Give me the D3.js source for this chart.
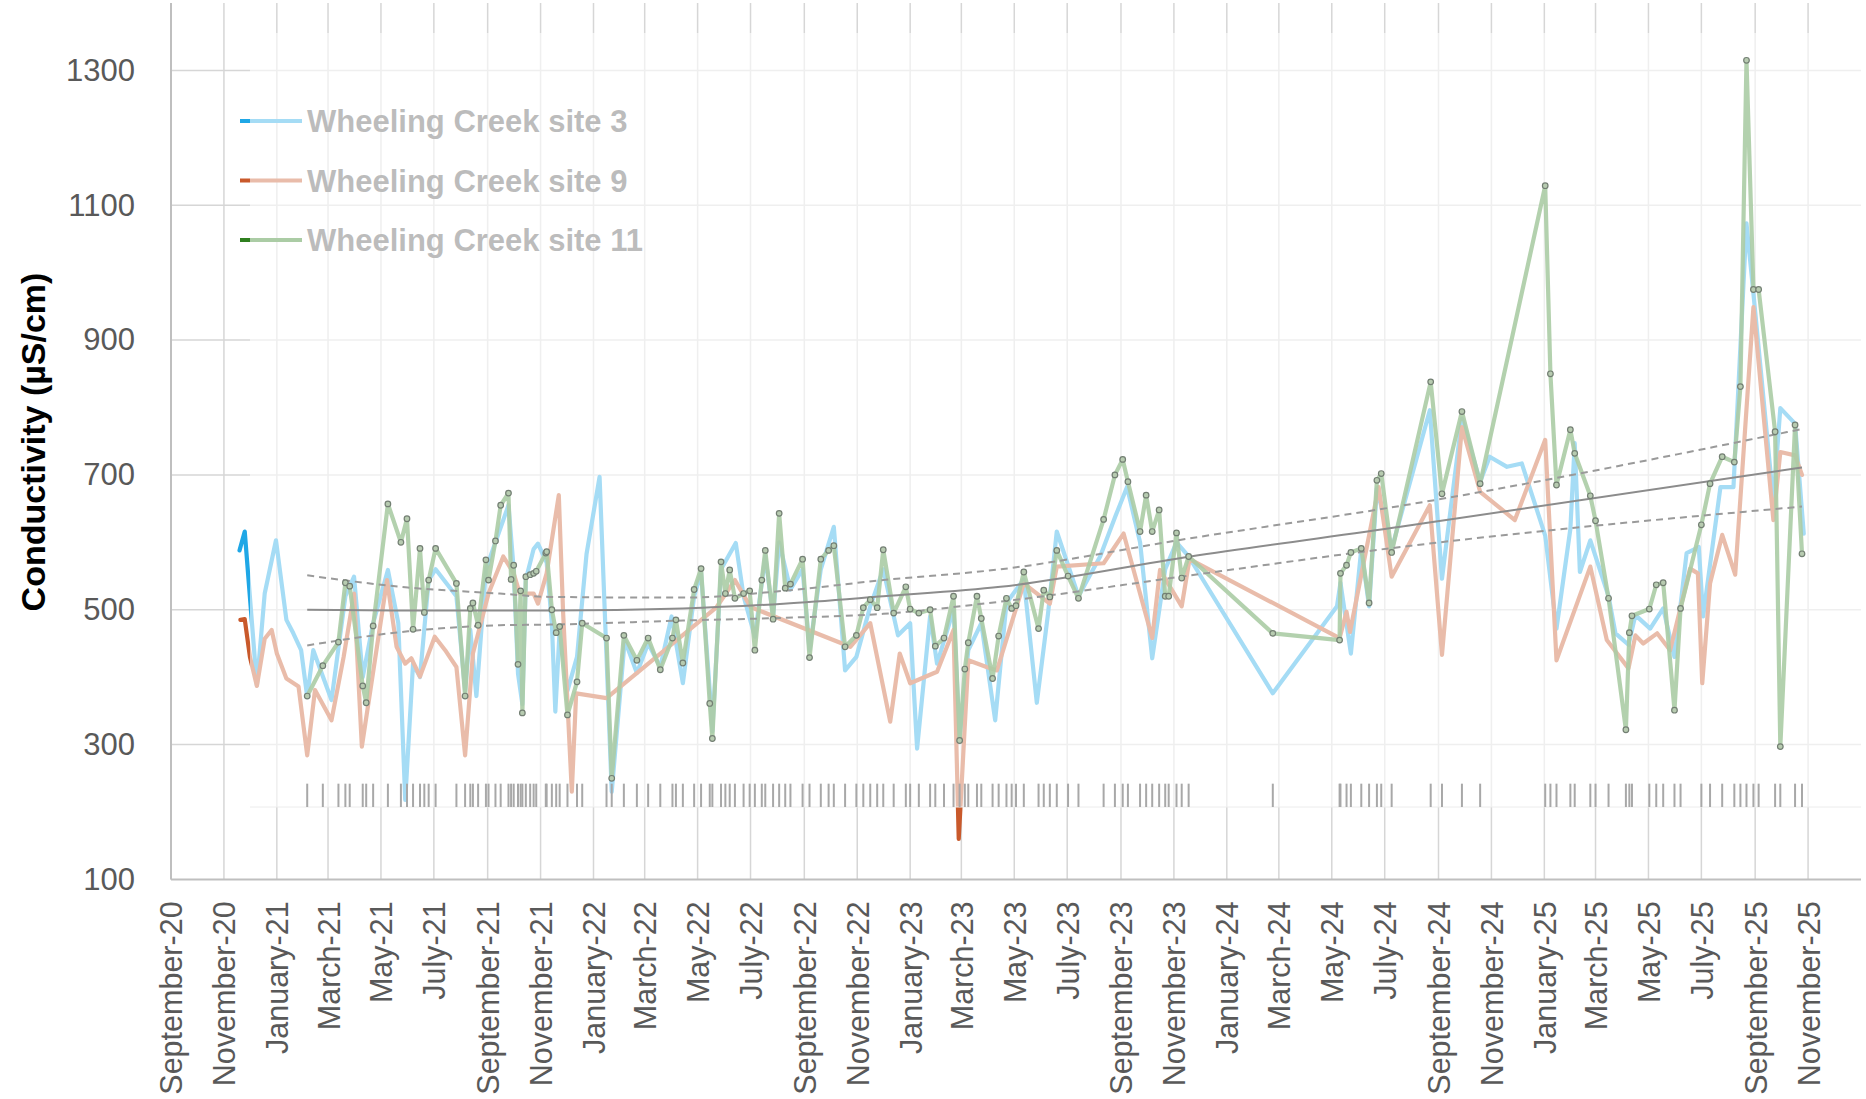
<!DOCTYPE html>
<html>
<head>
<meta charset="utf-8">
<script src="https://cdn.jsdelivr.net/npm/d3@7"></script>
<style>
  html, body { margin: 0; padding: 0; background: #ffffff; }
  svg { display: block; font-family: "Liberation Sans", Arial, sans-serif; }
</style>
</head>
<body>
<svg id="chart" width="1866" height="1099"></svg>
<script>
// ---- Conductivity readings (µS/cm) ----
const seriesNames = ["Wheeling Creek site 3", "Wheeling Creek site 9", "Wheeling Creek site 11"];

const site3Dates = ["2020-11-19","2020-11-25","2020-12-09","2020-12-18","2020-12-31","2021-01-12","2021-01-20","2021-01-29","2021-02-05","2021-02-12",
  "2021-03-05","2021-03-21","2021-03-31","2021-04-10","2021-04-22","2021-05-09","2021-05-21","2021-05-29","2021-06-07","2021-06-15",
  "2021-06-25","2021-07-03","2021-07-27","2021-08-06","2021-08-12","2021-08-19","2021-08-30","2021-09-10","2021-09-25","2021-10-01",
  "2021-10-06","2021-10-11","2021-10-15","2021-10-24","2021-10-29","2021-11-08","2021-11-14","2021-11-18","2021-11-23","2021-12-02",
  "2021-12-13","2021-12-24","2022-01-08","2022-01-22","2022-02-06","2022-02-20","2022-03-05","2022-03-19","2022-04-01","2022-04-14",
  "2022-04-27","2022-05-05","2022-05-15","2022-05-18","2022-05-28","2022-06-14","2022-06-23","2022-07-06","2022-07-18","2022-07-27",
  "2022-08-03","2022-08-16","2022-08-30","2022-09-07","2022-09-20","2022-10-05","2022-10-18","2022-10-31","2022-11-16","2022-12-01",
  "2022-12-18","2023-01-01","2023-01-09","2023-01-24","2023-02-01","2023-02-20","2023-02-27","2023-03-09","2023-03-24","2023-04-09",
  "2023-04-22","2023-05-12","2023-05-27","2023-06-09","2023-06-19","2023-07-14","2023-08-08","2023-08-26","2023-09-08","2023-09-23",
  "2023-10-07","2023-10-22","2023-11-04","2023-11-18","2024-02-23","2024-05-07","2024-05-11","2024-05-23","2024-06-04","2024-06-13",
  "2024-06-22","2024-07-09","2024-08-22","2024-09-05","2024-09-28","2024-10-19","2024-10-30","2024-11-19","2024-12-06","2025-01-02",
  "2025-01-15","2025-01-31","2025-02-05","2025-02-11","2025-02-23","2025-03-16","2025-03-24","2025-04-08","2025-04-16","2025-05-03",
  "2025-05-18","2025-05-31","2025-06-14","2025-06-28","2025-07-03","2025-07-23","2025-08-07","2025-08-22","2025-08-30","2025-09-22",
  "2025-09-30","2025-10-17","2025-10-27"];
const site3Values = [588,616,388,524,603,485,465,440,371,440,
  366,520,549,400,480,559,480,218,420,400,
  544,560,520,380,470,372,560,600,655,560,
  405,360,545,590,598,570,480,349,470,380,
  430,583,697,230,455,406,450,415,490,391,
  520,555,380,320,560,599,520,460,580,490,
  600,530,560,440,560,623,410,430,505,560,
  462,480,294,490,420,500,310,440,480,336,
  510,545,362,495,616,520,579,640,682,600,
  428,560,600,579,376,505,540,435,590,505,
  680,590,796,546,783,690,727,712,717,610,
  472,620,747,556,603,520,465,448,492,472,
  502,430,584,593,490,682,682,1073,969,660,
  799,776,613];

const site9Dates = ["2020-11-20","2020-11-25","2020-12-01","2020-12-09","2020-12-18","2020-12-26","2021-01-01","2021-01-12","2021-01-26","2021-02-05",
  "2021-02-14","2021-03-05","2021-03-19","2021-03-31","2021-04-09","2021-05-08","2021-05-19","2021-05-29","2021-06-05","2021-06-15",
  "2021-07-02","2021-07-14","2021-07-27","2021-08-06","2021-08-15","2021-09-02","2021-09-19","2021-10-01","2021-10-08","2021-10-24",
  "2021-10-29","2021-11-08","2021-11-22","2021-11-27","2021-12-07","2021-12-12","2022-01-16","2022-05-23","2022-06-13","2022-07-01",
  "2022-10-24","2022-11-16","2022-12-09","2022-12-20","2023-01-01","2023-02-01","2023-02-20","2023-02-26","2023-03-09","2023-03-30",
  "2023-04-11","2023-05-12","2023-06-11","2023-06-19","2023-08-12","2023-09-04","2023-10-07","2023-10-16","2023-11-10","2023-11-19",
  "2024-05-10","2024-05-18","2024-05-22","2024-06-24","2024-07-09","2024-08-22","2024-09-05","2024-09-28","2024-10-19","2024-11-28",
  "2025-01-02","2025-01-15","2025-02-23","2025-03-14","2025-04-08","2025-04-16","2025-04-25","2025-05-11","2025-05-26","2025-06-18",
  "2025-06-27","2025-07-02","2025-07-11","2025-07-25","2025-08-09","2025-08-30","2025-09-22","2025-09-30","2025-10-17","2025-10-25"];
const site9Values = [485,486,430,387,457,470,435,398,386,284,
  381,336,430,524,297,544,445,420,428,401,
  460,440,415,284,435,524,579,554,524,524,
  509,554,670,495,230,376,369,504,544,504,
  445,480,334,435,391,408,470,160,425,415,
  410,539,509,564,569,613,458,559,505,575,
  458,497,467,682,549,655,433,771,675,633,
  752,425,564,455,413,462,450,465,440,561,
  554,391,539,611,552,949,633,734,729,700];

const site11Dates = ["2021-02-05","2021-02-23","2021-03-13","2021-03-21","2021-03-26","2021-04-10","2021-04-14","2021-04-22","2021-05-09","2021-05-24",
  "2021-05-31","2021-06-07","2021-06-15","2021-06-20","2021-06-25","2021-07-03","2021-07-27","2021-08-06","2021-08-12","2021-08-15",
  "2021-08-21","2021-08-30","2021-09-02","2021-09-10","2021-09-16","2021-09-25","2021-09-28","2021-10-01","2021-10-06","2021-10-09",
  "2021-10-11","2021-10-15","2021-10-20","2021-10-24","2021-10-27","2021-11-07","2021-11-08","2021-11-14","2021-11-19","2021-11-23",
  "2021-12-02","2021-12-13","2021-12-19","2022-01-16","2022-01-22","2022-02-05","2022-02-20","2022-03-05","2022-03-19","2022-04-02",
  "2022-04-06","2022-04-14","2022-04-27","2022-05-05","2022-05-15","2022-05-18","2022-05-28","2022-06-02","2022-06-07","2022-06-13",
  "2022-06-23","2022-06-30","2022-07-06","2022-07-14","2022-07-18","2022-07-27","2022-08-03","2022-08-10","2022-08-16","2022-08-30",
  "2022-09-07","2022-09-20","2022-09-29","2022-10-05","2022-10-18","2022-10-31","2022-11-08","2022-11-16","2022-11-24","2022-12-01",
  "2022-12-13","2022-12-27","2023-01-01","2023-01-11","2023-01-24","2023-01-30","2023-02-09","2023-02-20","2023-02-27","2023-03-05",
  "2023-03-09","2023-03-19","2023-03-24","2023-04-06","2023-04-13","2023-04-22","2023-04-28","2023-05-03","2023-05-12","2023-05-29",
  "2023-06-04","2023-06-11","2023-06-19","2023-07-02","2023-07-14","2023-08-12","2023-08-25","2023-09-03","2023-09-09","2023-09-23",
  "2023-09-30","2023-10-07","2023-10-15","2023-10-22","2023-10-26","2023-11-04","2023-11-10","2023-11-18","2024-02-23","2024-05-10",
  "2024-05-11","2024-05-18","2024-05-23","2024-06-04","2024-06-13","2024-06-22","2024-06-27","2024-07-09","2024-08-23","2024-09-05",
  "2024-09-28","2024-10-19","2025-01-02","2025-01-08","2025-01-15","2025-01-31","2025-02-05","2025-02-23","2025-03-01","2025-03-16",
  "2025-04-05","2025-04-09","2025-04-12","2025-05-02","2025-05-10","2025-05-18","2025-05-31","2025-06-07","2025-07-01","2025-07-11",
  "2025-07-25","2025-08-08","2025-08-15","2025-08-22","2025-08-30","2025-09-05","2025-09-24","2025-09-30","2025-10-17","2025-10-25"];
const site11Values = [372,417,452,540,535,387,362,476,657,600,
  635,471,591,496,544,591,539,372,502,510,
  477,574,544,602,655,673,545,566,419,528,
  347,549,552,554,557,584,586,500,466,475,
  344,393,480,458,250,462,425,458,411,458,
  485,421,530,561,361,309,571,524,559,517,
  524,528,440,544,588,486,643,532,538,575,
  429,575,588,595,445,462,503,515,503,589,
  495,534,501,495,500,446,458,520,306,412,
  451,520,487,398,461,517,502,506,556,472,
  529,519,588,550,517,634,700,723,690,616,
  670,616,648,520,520,614,547,579,465,455,
  554,566,585,591,510,692,702,585,838,672,
  794,687,1129,850,685,767,732,669,632,517,
  322,466,491,501,537,540,351,502,626,687,
  727,719,831,1315,975,975,764,297,774,583];

// Smoothed trend with its confidence band
const trendDates = ["2021-02-05","2021-06-01","2021-09-15","2021-11-12","2022-04-14","2022-08-08","2022-12-01","2023-04-15","2023-11-20","2024-07-19","2025-10-25"];
const trendFit   = [500,499,499,499,502,509,520,534,579,623,711];
const trendUpper = [551,533,524,519,518,528,544,560,606,654,768];
const trendLower = [447,468,477,478,484,488,494,512,551,593,653];

const yTicks = [100,300,500,700,900,1100,1300];

// ---- Layout ----
const W = 1866, H = 1099;
const plot = { left: 171, right: 1861, top: 3, bottom: 879.4 };
const veil = { left: 250, top: 33, bottom: 807 };   // translucent white panel over the plot
const colors = { site3: "#1fa7e6", site9: "#c9592b", site11: "#2f7f1f" };
const seriesColors = [colors.site3, colors.site9, colors.site11];

const parse = d3.timeParse("%Y-%m-%d");
const toPoints = (dates, values) => dates.map((d, i) => ({ date: parse(d), value: values[i] }));
const site3 = toPoints(site3Dates, site3Values);
const site9 = toPoints(site9Dates, site9Values);
const site11 = toPoints(site11Dates, site11Values);
const fit = toPoints(trendDates, trendFit);
const upper = toPoints(trendDates, trendUpper);
const lower = toPoints(trendDates, trendLower);

const x = d3.scaleTime()
  .domain([new Date(2020, 8, 1), new Date(2026, 0, 1)])
  .range([plot.left, plot.right]);
const y = d3.scaleLinear().domain([100, 1400]).range([plot.bottom, plot.top]);

const svg = d3.select("#chart");
const monthTicks = x.ticks(d3.timeMonth.every(2)).filter(d => d < new Date(2025, 11, 1));

// Gridlines
const grid = svg.append("g");
grid.selectAll("line.h").data(yTicks.slice(1)).join("line")
  .attr("x1", plot.left).attr("x2", plot.right)
  .attr("y1", d => y(d)).attr("y2", d => y(d))
  .attr("stroke", "#d6d6d6").attr("stroke-width", 1.5);
grid.selectAll("line.v").data(monthTicks).join("line")
  .attr("x1", d => x(d)).attr("x2", d => x(d))
  .attr("y1", plot.top).attr("y2", plot.bottom)
  .attr("stroke", "#d6d6d6").attr("stroke-width", 1.5);

// Legend
const legend = svg.append("g");
seriesNames.forEach((name, i) => {
  const ly = 121 + i * 59.5;
  legend.append("line")
    .attr("x1", 240).attr("x2", 302).attr("y1", ly).attr("y2", ly)
    .attr("stroke", seriesColors[i]).attr("stroke-width", 4);
  legend.append("text")
    .attr("x", 307).attr("y", ly).attr("dy", "0.36em")
    .attr("font-size", 31).attr("font-weight", "bold").attr("fill", "#595959")
    .text(name);
});

// Series lines
const line = d3.line().x(d => x(d.date)).y(d => y(d.value));
const lines = svg.append("g").attr("fill", "none")
  .attr("stroke-width", 4.2).attr("stroke-linejoin", "round").attr("stroke-linecap", "round");
lines.append("path").datum(site3).attr("d", line).attr("stroke", colors.site3);
lines.append("path").datum(site9).attr("d", line).attr("stroke", colors.site9);
lines.append("path").datum(site11).attr("d", line).attr("stroke", colors.site11).attr("stroke-opacity", 0.9);

// Translucent panel
svg.append("rect")
  .attr("x", veil.left).attr("y", veil.top)
  .attr("width", W - veil.left).attr("height", veil.bottom - veil.top)
  .attr("fill", "#ffffff").attr("fill-opacity", 0.6);
svg.append("line")
  .attr("x1", veil.left).attr("x2", plot.right).attr("y1", veil.bottom).attr("y2", veil.bottom)
  .attr("stroke", "#ececec").attr("stroke-width", 1);

// Sampling-date rug
svg.append("g").selectAll("line").data(site11).join("line")
  .attr("x1", d => x(d.date)).attr("x2", d => x(d.date))
  .attr("y1", y(242)).attr("y2", veil.bottom)
  .attr("stroke", "#a8a8a8").attr("stroke-width", 2);

// Trend and band
const smooth = d3.line().curve(d3.curveMonotoneX).x(d => x(d.date)).y(d => y(d.value));
const trend = svg.append("g").attr("fill", "none");
trend.append("path").datum(fit).attr("d", smooth).attr("stroke", "#8c8c8c").attr("stroke-width", 2);
[upper, lower].forEach(band => {
  trend.append("path").datum(band).attr("d", smooth)
    .attr("stroke", "#9a9a9a").attr("stroke-width", 2).attr("stroke-dasharray", "7,5");
});

// Site 11 markers
svg.append("g").selectAll("circle").data(site11).join("circle")
  .attr("cx", d => x(d.date)).attr("cy", d => y(d.value)).attr("r", 2.8)
  .attr("fill", "#b7cbb0").attr("stroke", "#737f73").attr("stroke-width", 1.2);

// Axes
const xAxis = svg.append("g").attr("transform", `translate(0,${plot.bottom})`)
  .call(d3.axisBottom(x).tickValues(monthTicks).tickFormat(d3.timeFormat("%B-%y")).tickSize(0));
xAxis.select(".domain").remove();
xAxis.selectAll("text")
  .attr("transform", "rotate(-90)")
  .attr("text-anchor", "end")
  .attr("x", -22).attr("y", 0).attr("dy", "0.36em")
  .attr("font-size", 30.5).attr("fill", "#595959")
  .attr("font-family", "'Liberation Sans', Arial, sans-serif");

const yAxis = svg.append("g").attr("transform", `translate(${plot.left},0)`)
  .call(d3.axisLeft(y).tickValues(yTicks).tickFormat(d3.format("d")).tickSize(0).tickPadding(36));
yAxis.select(".domain").remove();
yAxis.selectAll("text")
  .attr("font-size", 31).attr("fill", "#595959")
  .attr("font-family", "'Liberation Sans', Arial, sans-serif");

svg.append("line")
  .attr("x1", plot.left).attr("x2", plot.right).attr("y1", plot.bottom).attr("y2", plot.bottom)
  .attr("stroke", "#bfbfbf").attr("stroke-width", 2);
svg.append("line")
  .attr("x1", plot.left).attr("x2", plot.left).attr("y1", plot.top).attr("y2", plot.bottom)
  .attr("stroke", "#bfbfbf").attr("stroke-width", 2);

svg.append("text")
  .attr("transform", `translate(33,${(271 + 613) / 2}) rotate(-90)`)
  .attr("text-anchor", "middle").attr("dy", "0.36em")
  .attr("font-size", 34).attr("font-weight", "bold").attr("fill", "#000000")
  .text("Conductivity (µS/cm)");
</script>
</body>
</html>
